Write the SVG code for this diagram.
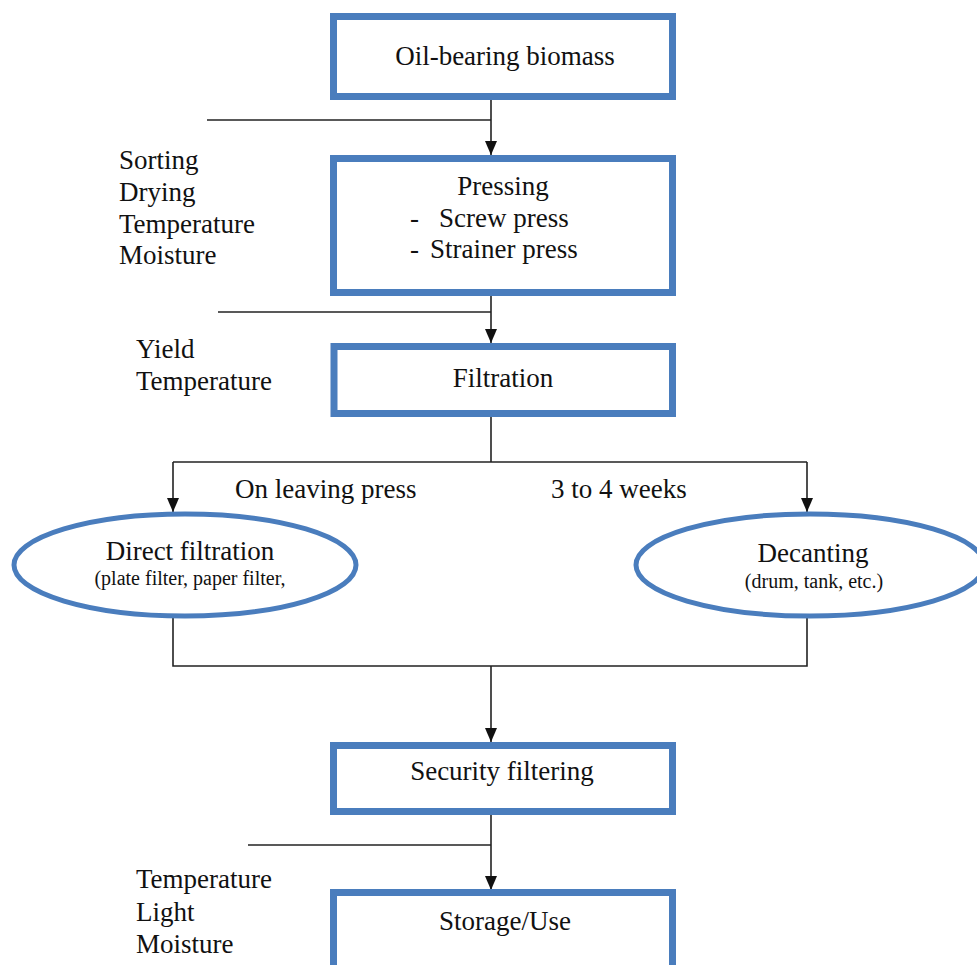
<svg xmlns="http://www.w3.org/2000/svg" width="977" height="965" viewBox="0 0 977 965" font-family="'Liberation Serif', Tinos, 'Times New Roman', 'DejaVu Serif', serif">
<defs>
<marker id="arr" viewBox="0 0 14 12" refX="14" refY="6" markerWidth="14" markerHeight="12" markerUnits="userSpaceOnUse" orient="auto">
<path d="M0,0 L14,6 L0,12 z" fill="#111"/>
</marker>
<style>
.box{fill:#fff;stroke:#4a7dbd;stroke-width:7}
.ell{fill:#fff;stroke:#4a7dbd;stroke-width:5}
.ln{fill:none;stroke:#222;stroke-width:1.6}
text{font-family:'Liberation Serif', Tinos, 'Times New Roman', 'DejaVu Serif', serif;font-size:27px;fill:#111}
.c{text-anchor:middle}
.s{font-size:20px}
</style>
</defs>
<rect width="977" height="965" fill="#fff"/>
<g id="connectors">
<line class="ln" x1="491" y1="100" x2="491" y2="155" marker-end="url(#arr)"/>
<line class="ln" x1="207" y1="120" x2="491" y2="120"/>
<line class="ln" x1="491" y1="296" x2="491" y2="343" marker-end="url(#arr)"/>
<line class="ln" x1="218" y1="312" x2="491" y2="312"/>
<polyline class="ln" points="491,417 491,462"/>
<polyline class="ln" points="173,462 807,462"/>
<line class="ln" x1="173" y1="462" x2="173" y2="512" marker-end="url(#arr)"/>
<line class="ln" x1="807" y1="462" x2="807" y2="512" marker-end="url(#arr)"/>
<polyline class="ln" points="173,617 173,666 807,666 807,617"/>
<line class="ln" x1="491" y1="666" x2="491" y2="742" marker-end="url(#arr)"/>
<line class="ln" x1="491" y1="815" x2="491" y2="890" marker-end="url(#arr)"/>
<line class="ln" x1="248" y1="845" x2="491" y2="845"/>
</g>
<g id="n-biomass">
<rect class="box" x="333.5" y="16.5" width="339" height="80"/>
<text class="c" x="505" y="65">Oil-bearing biomass</text>
</g>
<g id="n-pretreat-params">
<text x="119" y="169">Sorting</text>
<text x="119" y="201">Drying</text>
<text x="119" y="233">Temperature</text>
<text x="119" y="264">Moisture</text>
</g>
<g id="n-pressing">
<rect class="box" x="333.5" y="158.5" width="339" height="134"/>
<text class="c" x="503" y="195">Pressing</text>
<text x="410" y="227">-</text>
<text x="439" y="227">Screw press</text>
<text x="410" y="258">-</text>
<text x="430" y="258">Strainer press</text>
</g>
<g id="n-press-params">
<text x="136" y="358">Yield</text>
<text x="136" y="390">Temperature</text>
</g>
<g id="n-filtration">
<rect class="box" x="334" y="346.5" width="338.5" height="67"/>
<text class="c" x="503" y="387">Filtration</text>
</g>
<g id="l-leaving">
<text x="235" y="498">On leaving press</text>
</g>
<g id="l-weeks">
<text x="551" y="498">3 to 4 weeks</text>
</g>
<g id="n-direct">
<ellipse class="ell" cx="185" cy="565" rx="171" ry="51"/>
<text class="c" x="190" y="560">Direct filtration</text>
<text class="c s" x="190" y="585">(plate filter, paper filter,</text>
</g>
<g id="n-decanting">
<ellipse class="ell" cx="810" cy="565" rx="174" ry="51"/>
<text class="c" x="813" y="562">Decanting</text>
<text class="c s" x="814" y="588">(drum, tank, etc.)</text>
</g>
<g id="n-security">
<rect class="box" x="333.5" y="745.5" width="339" height="66"/>
<text class="c" x="502" y="780">Security filtering</text>
</g>
<g id="n-storage-params">
<text x="136" y="888">Temperature</text>
<text x="136" y="921">Light</text>
<text x="136" y="953">Moisture</text>
</g>
<g id="n-storage">
<rect class="box" x="333.5" y="892.5" width="339" height="100"/>
<text class="c" x="505" y="930">Storage/Use</text>
</g>
</svg>
